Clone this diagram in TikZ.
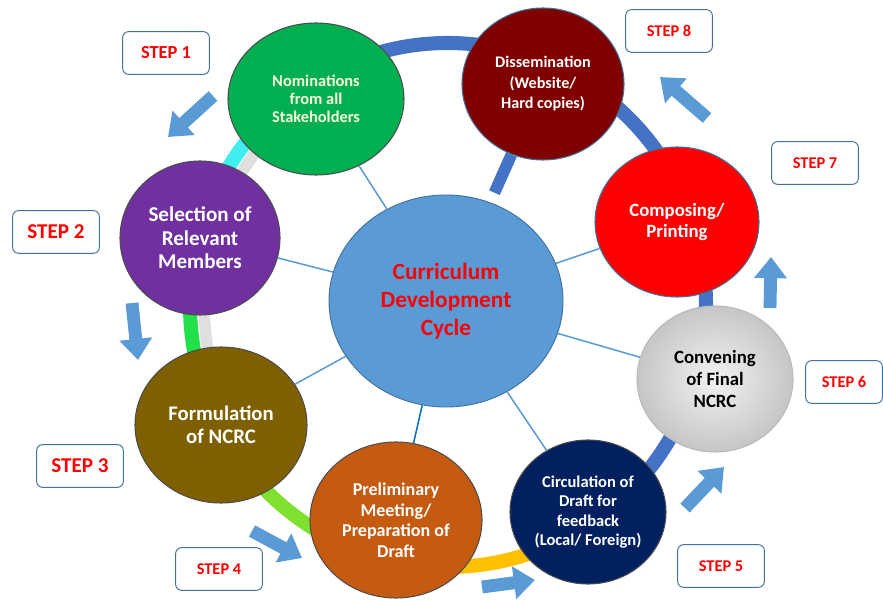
\documentclass[tikz,border=0pt]{standalone}
\usepackage{fontspec}
\setmainfont{Carlito}
\usetikzlibrary{arrows.meta,shapes.geometric}
\definecolor{ringblue}{HTML}{4472C4}
\definecolor{linkblue}{HTML}{5B9BD5}
\definecolor{edgeblue}{HTML}{41719C}
\definecolor{darklink}{HTML}{0070C0}
\definecolor{ringcyan}{HTML}{40EEEE}
\definecolor{ringgreen}{HTML}{22E04A}
\definecolor{ringlime}{HTML}{80E030}
\definecolor{ringgold}{HTML}{FFC000}
\definecolor{nomgreen}{HTML}{00B050}
\definecolor{dismaroon}{HTML}{800000}
\definecolor{selpurple}{HTML}{7030A0}
\definecolor{fmlbrown}{HTML}{7F6000}
\definecolor{preorange}{HTML}{C55A11}
\definecolor{cirnavy}{HTML}{002060}
\definecolor{nomtext}{HTML}{FAFAD8}

\begin{document}
\begin{tikzpicture}[x=0.03cm,y=-0.03cm,
  stage/.style={ellipse,draw=black!70,line width=0.9pt,text=white,align=center,inner sep=0pt},
  stepbox/.style={rectangle,rounded corners=5pt,draw=edgeblue,line width=0.8pt,fill=white,text=red,minimum width=2.6cm,minimum height=1.28cm},
  link/.style={draw=linkblue,line width=1.3pt},
  ring/.style={line width=12pt},
  push/.style={draw=linkblue,line width=11pt,-{Triangle[width=27pt,length=18pt]}}]
\useasboundingbox (0,0) rectangle (883,600);

% ring
\coordinate (hub) at (448,305);
\draw[line width=10pt,gray!25] (hub) ++(237.4:244 and 248) arc[start angle=237.4,end angle=152.1,x radius=244,y radius=248];
\draw[ring,ringblue] (hub) ++(55.9:258 and 262) arc[start angle=55.9,end angle=-122.6,x radius=258,y radius=262];
\draw[ring,ringcyan] (hub) ++(237.4:258 and 262) arc[start angle=237.4,end angle=195.1,x radius=258,y radius=262];
\draw[ring,ringgreen] (hub) ++(195.1:258 and 262) arc[start angle=195.1,end angle=152.1,x radius=258,y radius=262];
\draw[ring,ringlime] (hub) ++(152.1:258 and 262) arc[start angle=152.1,end angle=103.6,x radius=258,y radius=262];
\draw[ring,ringgold] (hub) ++(103.6:258 and 262) arc[start angle=103.6,end angle=55.9,x radius=258,y radius=262];

% stages
\node[ellipse,fill=linkblue,draw=edgeblue,line width=0.8pt,minimum width=7.02cm,minimum height=6.36cm,align=center,text=red,
  font=\bfseries\fontsize{19.9}{24}\selectfont] (cdc) at (446,301) {Curriculum\\Development\\Cycle};
\node[stage,fill=nomgreen,text=nomtext,minimum width=5.28cm,minimum height=4.56cm,
  font=\bfseries\fontsize{14}{15.5}\selectfont] (nom) at (316,99) {Nominations\\from all\\Stakeholders};
\node[stage,fill=dismaroon,draw=edgeblue,minimum width=4.86cm,minimum height=4.56cm,
  font=\bfseries\fontsize{13.8}{17.5}\selectfont] (dis) at (543,84) {Dissemination\\(Website/\\Hard copies)};
\node[stage,fill=red,draw=edgeblue,minimum width=4.92cm,minimum height=4.5cm,
  font=\bfseries\fontsize{16}{18.5}\selectfont] (com) at (677,222) {Composing/\\Printing};
\node[stage,fill=selpurple,minimum width=4.8cm,minimum height=4.62cm,
  font=\bfseries\fontsize{18}{20}\selectfont] (sel) at (200,238) {Selection of\\Relevant\\Members};
\node[stage,fill=fmlbrown,minimum width=5.16cm,minimum height=4.68cm,
  font=\bfseries\fontsize{17.7}{19.6}\selectfont] (fml) at (221,425) {Formulation\\of NCRC};
\node[stage,fill=preorange,minimum width=5.16cm,minimum height=4.68cm,
  font=\bfseries\fontsize{15.4}{17.5}\selectfont] (pre) at (396,520) {Preliminary\\Meeting/\\Preparation of\\Draft};
\node[stage,fill=cirnavy,minimum width=4.68cm,minimum height=4.32cm,
  font=\bfseries\fontsize{14.1}{16.5}\selectfont] (cir) at (588,512) {Circulation of\\Draft for\\feedback\\(Local/ Foreign)};
\node[stage,draw=gray!55,inner color=gray!10,outer color=gray!45,text=black,minimum width=4.68cm,minimum height=4.38cm,
  font=\bfseries\fontsize{16}{18.8}\selectfont] (con) at (715,379) {Convening\\of Final\\NCRC};

% links to the hub
\draw[link] (cdc) -- (nom);
\draw[link] (cdc) -- (sel);
\draw[link] (cdc) -- (fml);
\draw[link,draw=darklink] (cdc) -- (pre);
\draw[link] (cdc) -- (cir);
\draw[link] (cdc) -- (con);
\draw[link] (cdc) -- (com);
\draw[line width=10pt,ringblue,shorten <=9pt] (cdc) -- (dis);

% steps
\node[stepbox,font=\bfseries\fontsize{15.7}{18}\selectfont] (st1) at (166,53) {STEP 1};
\node[stepbox,font=\bfseries\fontsize{18}{21}\selectfont] (st2) at (56,232) {STEP 2};
\node[stepbox,font=\bfseries\fontsize{18}{21}\selectfont] (st3) at (80,466) {STEP 3};
\node[stepbox,font=\bfseries\fontsize{14}{16}\selectfont] (st4) at (219,569) {STEP 4};
\node[stepbox,font=\bfseries\fontsize{14}{16}\selectfont] (st5) at (721,566) {STEP 5};
\node[stepbox,minimum width=2.3cm,font=\bfseries\fontsize{14}{16}\selectfont] (st6) at (844,382) {STEP 6};
\node[stepbox,font=\bfseries\fontsize{14}{16}\selectfont] (st7) at (815,163) {STEP 7};
\node[stepbox,font=\bfseries\fontsize{14}{16}\selectfont] (st8) at (669,31) {STEP 8};

% block arrows
\coordinate (p1a) at (213,96);  \coordinate (p1b) at (168,137);
\coordinate (p2a) at (132,303); \coordinate (p2b) at (138,360);
\coordinate (p4a) at (252,531); \coordinate (p4b) at (302,558);
\coordinate (p5a) at (482,587); \coordinate (p5b) at (535,580);
\coordinate (p6a) at (685,508); \coordinate (p6b) at (724,467);
\coordinate (p7a) at (770,308); \coordinate (p7b) at (771,257);
\coordinate (p8a) at (707,118); \coordinate (p8b) at (660,77);
\draw[push] (p1a) -- (p1b);
\draw[push] (p2a) -- (p2b);
\draw[push] (p4a) -- (p4b);
\draw[push] (p5a) -- (p5b);
\draw[push] (p6a) -- (p6b);
\draw[push] (p7a) -- (p7b);
\draw[push] (p8a) -- (p8b);
\end{tikzpicture}
\end{document}
